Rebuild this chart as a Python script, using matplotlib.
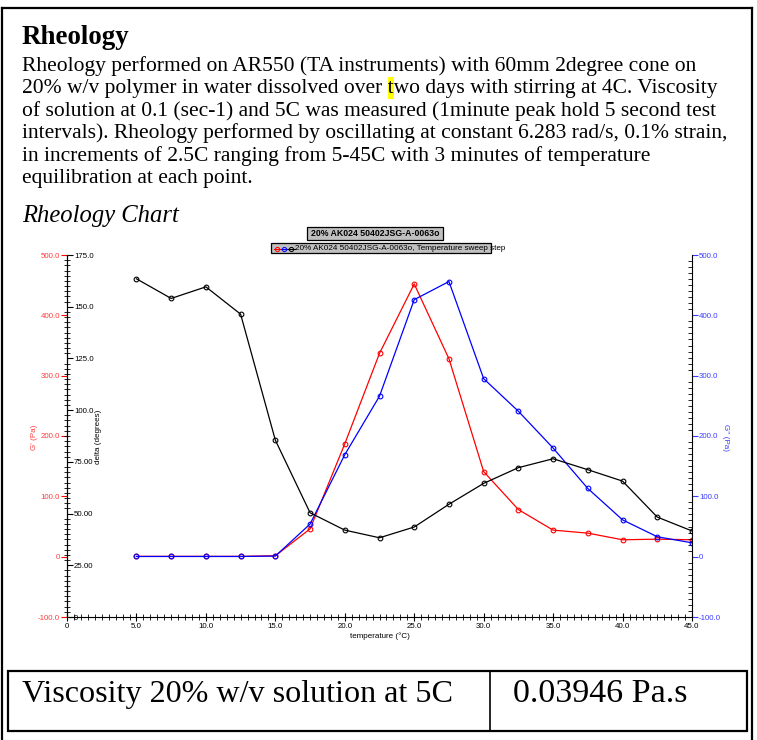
import matplotlib
matplotlib.use("Agg")
import matplotlib.pyplot as plt
from matplotlib import ticker
from matplotlib.lines import Line2D
from matplotlib.patches import Rectangle

# data
temps = [5.0, 7.5, 10.0, 12.5, 15.0, 17.5, 20.0, 22.5, 25.0, 27.5,
         30.0, 32.5, 35.0, 37.5, 40.0, 42.5, 45.0]
g_storage = [0.5, 0.5, 0.5, 0.5, 1.5, 46, 187, 337, 452, 328,
             141, 78, 44, 39, 28, 29, 28]
g_loss = [0.3, 0.3, 0.3, 0.3, 1.0, 54, 169, 266, 426, 456,
          295, 241, 180, 113, 61, 33, 23]
delta = [163.5, 154.0, 159.6, 146.4, 85.5, 50.4, 42.0, 38.3, 43.5, 54.5,
         64.6, 72.2, 76.5, 71.2, 65.7, 48.3, 41.6]

x_ticks = [0, 5, 10, 15, 20, 25, 30, 35, 40, 45]
x_labels = ["0", "5.0", "10.0", "15.0", "20.0", "25.0", "30.0", "35.0", "40.0", "45.0"]
g_ticks = [-100, 0, 100, 200, 300, 400, 500]
g_labels = ["-100.0", "0", "100.0", "200.0", "300.0", "400.0", "500.0"]
d_ticks = [0, 25, 50, 75, 100, 125, 150, 175]
d_labels = ["0", "25.00", "50.00", "75.00", "100.0", "125.0", "150.0", "175.0"]

body_lines = [
    "Rheology performed on AR550 (TA instruments) with 60mm 2degree cone on",
    "20% w/v polymer in water dissolved over two days with stirring at 4C. Viscosity",
    "of solution at 0.1 (sec-1) and 5C was measured (1minute peak hold 5 second test",
    "intervals). Rheology performed by oscillating at constant 6.283 rad/s, 0.1% strain,",
    "in increments of 2.5C ranging from 5-45C with 3 minutes of temperature",
    "equilibration at each point.",
]
highlight_prefix = "20% w/v polymer in water dissolved over t"

W, H = 757, 740
RED, BLUE = "#ff0000", "#0000ff"
RED_T, BLUE_T = "#ff3c3c", "#3c3cff"
SERIF = "Liberation Serif"
SANS = "Liberation Sans"
BODY_FS = 15.5
TICK_FS = 5.7


def fx(x):
    return x / W


def fy(y):
    return 1 - y / H


fig = plt.figure(figsize=(W / 100, H / 100), dpi=100)

# page frame
fig.add_artist(Line2D([fx(1.5), fx(1.5)], [fy(7.5), 0], color="black", lw=1.6))
fig.add_artist(Line2D([fx(751.5), fx(751.5)], [fy(7.5), 0], color="black", lw=1.6))
fig.add_artist(Line2D([fx(1.5), fx(751.5)], [fy(7.5), fy(7.5)], color="black", lw=1.6))

# heading and paragraph
fig.text(fx(22), fy(44), "Rheology", family=SERIF, weight="bold", fontsize=19.4, va="baseline")
base = 71
step = 22.4
for i, line in enumerate(body_lines):
    fig.text(fx(22), fy(base + i * step), line, family=SERIF, fontsize=BODY_FS, va="baseline")

# yellow highlight behind the "t" of "two"
renderer = fig.canvas.get_renderer()
tmp = fig.text(fx(22), fy(base + step), highlight_prefix, family=SERIF, fontsize=BODY_FS)
tmp_t = fig.text(0, 0, "t", family=SERIF, fontsize=BODY_FS)
x_end = tmp.get_window_extent(renderer).x1
t_w = tmp_t.get_window_extent(renderer).width
tmp.remove()
tmp_t.remove()
fig.add_artist(Rectangle(((x_end - t_w) / W, fy(base + step + 6)), t_w / W, 22 / H,
                         facecolor="#ffff00", edgecolor="none", zorder=-1))

fig.text(fx(22), fy(222), "Rheology Chart", family=SERIF, style="italic", fontsize=17.7, va="baseline")

# chart
ax = fig.add_axes([fx(67), fy(617), (692 - 67) / W, (617 - 255) / H])
ax3 = ax.twinx()
ax2 = ax.twinx()

ax.plot(temps, g_storage, color=RED, lw=0.9, marker="o", ms=3.4, mfc="none", mew=0.8)
ax3.plot(temps, g_loss, color=BLUE, lw=0.9, marker="o", ms=3.4, mfc="none", mew=0.8)
ax2.plot(temps, delta, color="black", lw=0.9, marker="o", ms=3.4, mfc="none", mew=0.8)

ax.set_xlim(0, 45)
ax.set_ylim(-100, 500)
ax3.set_ylim(-100, 500)
ax2.set_ylim(0, 175)

for a in (ax, ax2, ax3):
    a.spines["top"].set_visible(False)
ax.spines["right"].set_visible(False)
ax2.spines["left"].set_visible(False)
ax2.spines["bottom"].set_visible(False)
ax2.spines["right"].set_position(("axes", 0))
ax3.spines["left"].set_visible(False)
ax3.spines["bottom"].set_visible(False)

ax.set_xticks(x_ticks)
ax.set_xticklabels(x_labels, family=SANS)
ax.xaxis.set_minor_locator(ticker.MultipleLocator(0.5))
ax.tick_params(axis="x", which="major", direction="inout", length=6, width=0.8, labelsize=TICK_FS, pad=1)
ax.tick_params(axis="x", which="minor", direction="inout", length=4, width=0.6)

ax.set_yticks(g_ticks)
ax.set_yticklabels(g_labels, family=SANS)
ax.tick_params(axis="y", which="major", direction="out", length=4, width=0.8, colors=RED,
               labelcolor=RED_T, labelsize=TICK_FS, pad=1)

ax3.set_yticks(g_ticks)
ax3.set_yticklabels(g_labels, family=SANS)
ax3.yaxis.set_minor_locator(ticker.MultipleLocator(10))
ax3.tick_params(axis="y", which="major", direction="out", length=4, width=0.8, colors=BLUE_T,
                labelsize=TICK_FS, pad=1)
ax3.tick_params(axis="y", which="minor", direction="in", length=3, width=0.6, colors="black")

ax2.set_yticks(d_ticks)
ax2.set_yticklabels(d_labels, family=SANS)
ax2.yaxis.set_minor_locator(ticker.MultipleLocator(2.5))
ax2.tick_params(axis="y", which="major", direction="out", length=4, width=0.8, labelsize=TICK_FS, pad=1)
ax2.tick_params(axis="y", which="minor", direction="inout", length=4, width=0.6)

fig.text(fx(35), fy(437), "G' (Pa)", color=RED_T, rotation=90, ha="center", va="center",
         family=SANS, fontsize=5.8)
fig.text(fx(98), fy(437), "delta (degrees)", color="black", rotation=90, ha="center", va="center",
         family=SANS, fontsize=5.8)
fig.text(fx(726), fy(437), "G'' (Pa)", color=BLUE_T, rotation=-90, ha="center", va="center",
         family=SANS, fontsize=5.8)
fig.text(fx(380), fy(636), "temperature (\u00b0C)", ha="center", va="center", family=SANS, fontsize=5.8)

# chart title box and legend box
fig.add_artist(Rectangle((fx(307), fy(240)), 136 / W, 13 / H, facecolor="#c0c0c0",
                         edgecolor="black", lw=0.9))
fig.text(fx(375), fy(233.5), "20% AK024 50402JSG-A-0063o", ha="center", va="center",
         family=SANS, weight="bold", fontsize=6.3)
fig.add_artist(Rectangle((fx(271), fy(253)), 220 / W, 10 / H, facecolor="#c0c0c0",
                         edgecolor="black", lw=0.9))
for xc, col in [(277, RED), (284, BLUE), (291, "black")]:
    fig.add_artist(Line2D([fx(xc - 3.5), fx(xc + 3.5)], [fy(248.5), fy(248.5)], color=col, lw=0.8))
    fig.add_artist(Line2D([fx(xc)], [fy(248.5)], color=col, marker="o", ms=3, mfc="none", mew=0.7))
fig.text(fx(295), fy(248.5), "20% AK024 50402JSG-A-0063o, Temperature sweep step", va="center",
         family=SANS, fontsize=5.85)

# table
fig.add_artist(Rectangle((fx(8), fy(730.5)), (747 - 8) / W, (730.5 - 671) / H, facecolor="none",
                         edgecolor="black", lw=1.6))
fig.add_artist(Line2D([fx(490), fx(490)], [fy(671), fy(730.5)], color="black", lw=1.2))
fig.text(fx(22), fy(702), "Viscosity 20% w/v solution at 5C", family=SERIF, fontsize=23.1, va="baseline")
fig.text(fx(513), fy(702), "0.03946 Pa.s", family=SERIF, fontsize=24.5, va="baseline")

fig.savefig("out.png", dpi=100)
